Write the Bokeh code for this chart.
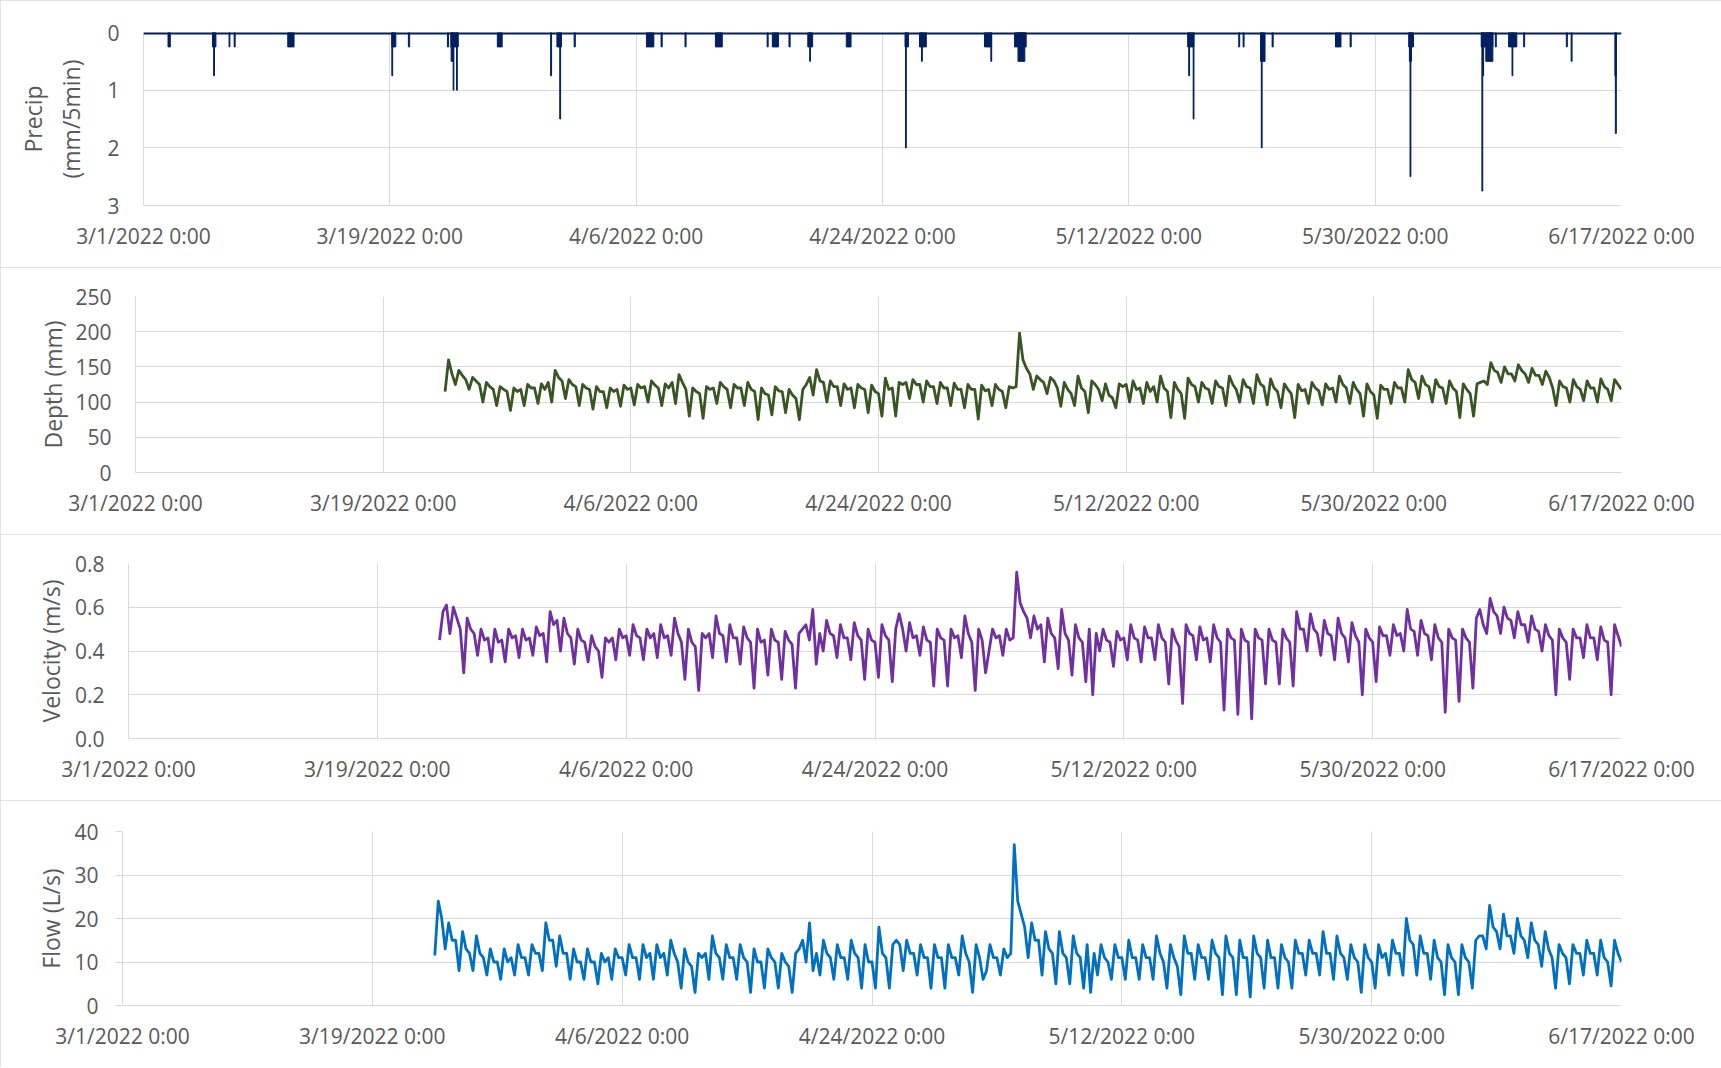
import pandas as pd
from bokeh.plotting import figure
from bokeh.models import Range1d, FixedTicker, Span, PrintfTickFormatter, ColumnDataSource
from bokeh.embed import file_html
from bokeh.resources import INLINE

# ---------------- data ----------------
tick_dates = ["2022-03-01 00:00", "2022-03-19 00:00", "2022-04-06 00:00", "2022-04-24 00:00",
              "2022-05-12 00:00", "2022-05-30 00:00", "2022-06-17 00:00"]
tick_labels = ["3/1/2022 0:00", "3/19/2022 0:00", "4/6/2022 0:00", "4/24/2022 0:00",
               "5/12/2022 0:00", "5/30/2022 0:00", "6/17/2022 0:00"]

# rainfall pulses (start, end, intensity mm/5min)
precip_start = ["2022-03-02 19:00", "2022-03-06 01:00", "2022-03-06 03:00", "2022-03-07 06:00", "2022-03-07 15:00",
                "2022-03-11 13:00", "2022-03-19 03:30", "2022-03-19 03:30", "2022-03-20 08:30", "2022-03-23 05:00",
                "2022-03-23 11:00", "2022-03-23 11:30", "2022-03-23 15:00", "2022-03-23 21:00", "2022-03-26 20:30",
                "2022-03-30 18:00", "2022-03-31 05:00", "2022-03-31 10:00", "2022-04-01 11:15", "2022-04-06 18:00",
                "2022-04-07 19:40", "2022-04-09 13:40", "2022-04-11 19:00", "2022-04-15 13:40", "2022-04-15 22:45",
                "2022-04-17 04:00", "2022-04-18 13:00", "2022-04-18 16:20", "2022-04-21 08:30", "2022-04-25 15:30",
                "2022-04-25 16:20", "2022-04-26 16:50", "2022-04-26 20:25", "2022-05-01 10:50", "2022-05-01 22:00",
                "2022-05-03 15:35", "2022-05-03 21:35", "2022-05-16 07:10", "2022-05-16 09:00", "2022-05-16 16:50",
                "2022-05-20 00:45", "2022-05-20 08:25", "2022-05-21 15:00", "2022-05-21 16:20", "2022-05-22 11:15",
                "2022-05-27 02:25", "2022-05-28 04:05", "2022-06-01 10:50", "2022-06-01 12:00", "2022-06-01 13:10",
                "2022-06-06 18:00", "2022-06-07 02:00", "2022-06-06 19:10", "2022-06-06 20:40", "2022-06-07 18:40",
                "2022-06-08 18:00", "2022-06-09 00:00", "2022-06-09 20:25", "2022-06-12 23:15", "2022-06-13 07:40",
                "2022-06-16 12:30", "2022-06-16 13:10"]
precip_end = ["2022-03-02 23:00", "2022-03-06 07:00", "2022-03-06 04:30", "2022-03-07 07:30", "2022-03-07 16:45",
              "2022-03-12 00:00", "2022-03-19 05:00", "2022-03-19 10:30", "2022-03-20 10:45", "2022-03-23 07:00",
              "2022-03-24 00:00", "2022-03-23 15:00", "2022-03-23 16:20", "2022-03-23 22:20", "2022-03-27 05:00",
              "2022-03-30 19:40", "2022-03-31 13:00", "2022-03-31 11:30", "2022-04-01 13:15", "2022-04-07 07:00",
              "2022-04-07 21:40", "2022-04-09 15:30", "2022-04-12 07:00", "2022-04-15 15:30", "2022-04-16 09:30",
              "2022-04-17 06:00", "2022-04-18 21:30", "2022-04-18 17:45", "2022-04-21 16:50", "2022-04-25 21:30",
              "2022-04-25 17:45", "2022-04-27 04:50", "2022-04-26 21:50", "2022-05-01 23:15", "2022-05-01 23:30",
              "2022-05-04 12:00", "2022-05-04 09:35", "2022-05-16 18:00", "2022-05-16 10:35", "2022-05-16 18:15",
              "2022-05-20 02:25", "2022-05-20 10:05", "2022-05-21 22:50", "2022-05-21 17:45", "2022-05-22 13:10",
              "2022-05-27 12:00", "2022-05-28 06:00", "2022-06-01 19:10", "2022-06-01 15:40", "2022-06-01 14:40",
              "2022-06-07 14:25", "2022-06-07 14:25", "2022-06-06 20:40", "2022-06-06 22:10", "2022-06-07 20:25",
              "2022-06-09 08:25", "2022-06-09 01:25", "2022-06-09 22:05", "2022-06-13 01:00", "2022-06-13 09:20",
              "2022-06-16 14:55", "2022-06-16 14:55"]
precip_mm = [0.25, 0.25, 0.75, 0.25, 0.25,
             0.25, 0.75, 0.25, 0.25, 0.25,
             0.25, 0.5, 1.0, 1.0, 0.25,
             0.75, 0.25, 1.5, 0.25, 0.25,
             0.25, 0.25, 0.25, 0.25, 0.25,
             0.25, 0.25, 0.5, 0.25, 0.25,
             2.0, 0.25, 0.5, 0.25, 0.5,
             0.25, 0.5, 0.25, 0.75, 1.5,
             0.25, 0.25, 0.5, 2.0, 0.25,
             0.25, 0.25, 0.25, 0.5, 2.5,
             0.25, 0.5, 2.75, 0.75, 0.25,
             0.25, 0.75, 0.25, 0.25, 0.5,
             0.75, 1.75]

# sensor record, 6-hourly readings starting 3/23/2022 12:00
series_start = "2022-03-23 12:00"

depth_mm = [
    115, 160,
    140, 125, 145, 138, 132, 118, 135, 130, 125, 100, 128, 122, 118, 95, 122, 118,
    115, 88, 120, 115, 118, 95, 125, 120, 120, 98, 126, 118, 128, 100, 145, 135,
    130, 105, 132, 125, 122, 95, 125, 120, 118, 90, 122, 115, 115, 92, 120, 115,
    118, 94, 124, 118, 120, 96, 125, 120, 122, 100, 130, 124, 120, 95, 126, 120,
    128, 98, 139, 128, 118, 80, 120, 115, 112, 77, 122, 118, 120, 98, 128, 122,
    118, 92, 125, 120, 120, 95, 128, 118, 115, 75, 120, 112, 110, 82, 122, 116,
    115, 85, 118, 110, 105, 75, 118, 125, 135, 110, 146, 130, 128, 100, 130, 122,
    122, 95, 126, 118, 120, 92, 125, 120, 118, 85, 124, 115, 112, 80, 134, 118,
    120, 80, 128, 125, 128, 105, 132, 125, 125, 100, 130, 122, 122, 98, 128, 120,
    120, 95, 127, 118, 118, 92, 125, 118, 118, 76, 124, 116, 118, 95, 125, 118,
    115, 92, 122, 120, 122, 198, 160, 148, 140, 118, 137, 132, 128, 112, 135, 130,
    120, 94, 128, 118, 112, 95, 137, 120, 115, 85, 130, 125, 118, 102, 126, 110,
    106, 92, 126, 122, 125, 100, 130, 118, 120, 98, 128, 115, 122, 100, 137, 120,
    115, 78, 128, 118, 112, 77, 134, 125, 122, 100, 128, 120, 118, 98, 130, 122,
    120, 95, 137, 125, 118, 100, 132, 122, 120, 98, 139, 126, 122, 96, 133, 120,
    115, 92, 126, 118, 112, 78, 125, 116, 118, 98, 128, 120, 116, 96, 126, 118,
    120, 100, 137, 125, 120, 98, 128, 118, 112, 80, 126, 115, 110, 77, 124, 118,
    118, 98, 128, 120, 120, 100, 146, 132, 128, 105, 137, 125, 122, 100, 132, 122,
    120, 98, 130, 120, 115, 78, 126, 118, 112, 80, 126, 128, 130, 125, 156, 145,
    142, 128, 150, 140, 140, 130, 153, 145, 140, 128, 148, 138, 138, 125, 144, 135,
    120, 95, 130, 122, 120, 100, 132, 122, 118, 102, 130, 120, 120, 100, 133, 122,
    118, 102, 132, 125,
    118]

velocity_ms = [
    0.45, 0.58,
    0.61, 0.48, 0.60, 0.55, 0.50, 0.30, 0.55, 0.50, 0.48, 0.38, 0.50, 0.45, 0.46, 0.35, 0.50, 0.44,
    0.45, 0.35, 0.50, 0.46, 0.47, 0.37, 0.50, 0.45, 0.46, 0.38, 0.51, 0.47, 0.48, 0.35, 0.58, 0.52,
    0.54, 0.40, 0.55, 0.48, 0.46, 0.34, 0.50, 0.45, 0.44, 0.35, 0.47, 0.42, 0.40, 0.28, 0.46, 0.44,
    0.46, 0.36, 0.50, 0.46, 0.47, 0.38, 0.52, 0.47, 0.46, 0.36, 0.50, 0.46, 0.48, 0.37, 0.52, 0.46,
    0.47, 0.38, 0.55, 0.48, 0.44, 0.27, 0.50, 0.44, 0.42, 0.22, 0.48, 0.46, 0.48, 0.37, 0.56, 0.48,
    0.47, 0.35, 0.52, 0.46, 0.46, 0.34, 0.51, 0.46, 0.44, 0.23, 0.50, 0.44, 0.45, 0.29, 0.50, 0.45,
    0.44, 0.27, 0.49, 0.45, 0.43, 0.23, 0.48, 0.50, 0.52, 0.45, 0.59, 0.34, 0.48, 0.40, 0.54, 0.48,
    0.47, 0.37, 0.52, 0.46, 0.46, 0.36, 0.53, 0.47, 0.45, 0.27, 0.50, 0.45, 0.44, 0.28, 0.52, 0.47,
    0.45, 0.26, 0.50, 0.57, 0.50, 0.40, 0.53, 0.46, 0.47, 0.38, 0.51, 0.45, 0.44, 0.24, 0.50, 0.46,
    0.45, 0.24, 0.50, 0.46, 0.47, 0.37, 0.56, 0.48, 0.44, 0.22, 0.50, 0.45, 0.30, 0.40, 0.50, 0.46,
    0.47, 0.38, 0.50, 0.45, 0.46, 0.76, 0.62, 0.58, 0.55, 0.46, 0.56, 0.50, 0.52, 0.35, 0.55, 0.48,
    0.46, 0.32, 0.59, 0.48, 0.45, 0.29, 0.52, 0.46, 0.44, 0.26, 0.50, 0.20, 0.48, 0.40, 0.50, 0.45,
    0.44, 0.33, 0.49, 0.45, 0.46, 0.36, 0.52, 0.46, 0.45, 0.35, 0.51, 0.46, 0.46, 0.36, 0.52, 0.46,
    0.44, 0.25, 0.50, 0.45, 0.42, 0.16, 0.52, 0.48, 0.47, 0.36, 0.51, 0.45, 0.46, 0.35, 0.52, 0.46,
    0.44, 0.13, 0.50, 0.46, 0.45, 0.11, 0.50, 0.45, 0.44, 0.09, 0.50, 0.46, 0.45, 0.25, 0.50, 0.45,
    0.44, 0.25, 0.50, 0.46, 0.44, 0.24, 0.58, 0.50, 0.50, 0.40, 0.57, 0.50, 0.48, 0.38, 0.54, 0.48,
    0.47, 0.36, 0.55, 0.48, 0.46, 0.35, 0.53, 0.47, 0.44, 0.20, 0.50, 0.46, 0.44, 0.26, 0.51, 0.47,
    0.47, 0.38, 0.52, 0.47, 0.48, 0.40, 0.59, 0.50, 0.49, 0.38, 0.54, 0.48, 0.47, 0.36, 0.52, 0.46,
    0.44, 0.12, 0.50, 0.46, 0.45, 0.17, 0.50, 0.46, 0.44, 0.23, 0.55, 0.59, 0.52, 0.48, 0.64, 0.58,
    0.56, 0.48, 0.60, 0.55, 0.54, 0.46, 0.58, 0.52, 0.52, 0.44, 0.56, 0.50, 0.49, 0.40, 0.52, 0.47,
    0.45, 0.20, 0.50, 0.46, 0.44, 0.27, 0.50, 0.46, 0.46, 0.37, 0.52, 0.46, 0.46, 0.36, 0.51, 0.45,
    0.44, 0.20, 0.52, 0.47,
    0.42]

flow_ls = [
    11.5, 24,
    20, 13, 19, 15, 15, 8, 17, 13, 12, 8, 16, 12, 11, 7, 13, 10,
    10, 6, 13, 10, 11, 7, 14, 11, 11, 7, 14, 12, 12, 8, 19, 15,
    15, 9, 16, 12, 12, 6, 13, 10, 10, 6, 13, 10, 10, 5, 12, 10,
    11, 6, 13, 11, 11, 7, 14, 11, 11, 6, 14, 11, 12, 6, 14, 11,
    12, 7, 15, 12, 10, 4, 13, 10, 9, 3, 12, 11, 12, 6, 16, 12,
    11, 6, 14, 11, 11, 6, 14, 11, 10, 3, 13, 10, 10, 4, 13, 11,
    10, 4, 12, 10, 9, 3, 12, 13, 15, 10, 19, 8, 12, 7, 15, 12,
    11, 6, 14, 11, 11, 6, 15, 12, 11, 4, 14, 10, 10, 4, 18, 12,
    11, 4, 14, 15, 14, 8, 15, 12, 12, 7, 14, 11, 11, 4, 14, 11,
    11, 4, 14, 11, 11, 7, 16, 12, 10, 3, 14, 11, 6, 8, 14, 11,
    11, 7, 13, 11, 12, 37, 24, 21, 18, 11, 19, 15, 15, 7, 17, 13,
    12, 5, 17, 12, 11, 5, 16, 12, 11, 4, 14, 3, 12, 7, 14, 11,
    10, 6, 14, 11, 11, 6, 15, 11, 11, 6, 14, 11, 11, 6, 16, 12,
    10, 4, 14, 11, 9, 2.5, 16, 12, 12, 6, 14, 11, 11, 6, 15, 12,
    11, 2.5, 16, 12, 11, 2.5, 15, 11, 11, 2, 16, 12, 11, 4, 15, 11,
    11, 4, 14, 11, 10, 4, 15, 12, 12, 7, 15, 12, 12, 7, 17, 12,
    12, 6, 16, 12, 11, 6, 14, 11, 10, 3, 14, 11, 10, 4, 14, 11,
    12, 7, 15, 12, 12, 7, 20, 15, 14, 7, 16, 12, 12, 6, 15, 11,
    10, 2.5, 14, 11, 10, 2.5, 14, 11, 10, 4, 15, 16, 16, 13, 23, 18,
    17, 13, 21, 16, 16, 12, 20, 16, 15, 11, 19, 15, 14, 9, 17, 13,
    11, 4, 14, 12, 11, 5, 14, 12, 12, 7, 15, 12, 12, 7, 15, 11,
    10, 4.5, 15, 12,
    10]

# ---------------- styling ----------------
FONT = "Open Sans"
TXT = "#595959"
GRID = "#d9d9d9"
W = 1721
RIGHT_FRAME = 1621

tick_ms = [int(pd.Timestamp(d).value // 10**6) for d in tick_dates]
x0 = pd.Timestamp(tick_dates[0])
x1 = pd.Timestamp(tick_dates[-1])


def series_times(values):
    return [pd.Timestamp(series_start) + pd.Timedelta(hours=6 * i) for i in range(len(values))]


def panel(height, top, bottom, left, y_range, y_ticks, label, label_standoff, tick_out=0):
    p = figure(width=W, height=height, x_axis_type="datetime",
               x_range=Range1d(x0, x1), y_range=y_range,
               output_backend="svg", toolbar_location=None,
               min_border_top=top, min_border_bottom=bottom,
               min_border_left=left, min_border_right=W - RIGHT_FRAME)
    p.outline_line_color = None
    p.background_fill_color = "white"
    p.border_fill_color = "white"
    p.styles = {"outline": "1px solid #d9d9d9", "outline-offset": "-1px"}

    p.xaxis.ticker = FixedTicker(ticks=tick_ms)
    p.xaxis.major_label_overrides = dict(zip(tick_ms, tick_labels))
    p.xgrid.ticker = FixedTicker(ticks=tick_ms)
    p.yaxis.ticker = FixedTicker(ticks=y_ticks)
    p.ygrid.ticker = FixedTicker(ticks=y_ticks)

    for g in (p.xgrid, p.ygrid):
        g.grid_line_color = GRID
        g.grid_line_width = 1

    for ax in (p.xaxis, p.yaxis):
        ax.axis_line_color = GRID
        ax.minor_tick_line_color = None
        ax.major_tick_in = 0
        ax.major_label_text_font = FONT
        ax.major_label_text_font_size = "21px"
        ax.major_label_text_color = TXT
        ax.axis_label_text_font = FONT
        ax.axis_label_text_font_size = "23px"
        ax.axis_label_text_font_style = "normal"
        ax.axis_label_text_color = TXT

    p.xaxis.major_tick_out = 0
    p.xaxis.major_label_standoff = 16
    p.yaxis.major_tick_out = tick_out
    p.yaxis.major_tick_line_color = GRID
    p.yaxis.major_label_standoff = 24 - tick_out
    p.yaxis.axis_label = label
    p.yaxis.axis_label_standoff = label_standoff
    return p


# Panel 1: precipitation (reversed axis)
p1 = panel(267, 32, 62, 143, Range1d(3, 0), [0, 1, 2, 3], "Precip\n(mm/5min)", 17)
psrc = ColumnDataSource(dict(left=pd.to_datetime(precip_start), right=pd.to_datetime(precip_end),
                             top=precip_mm, bottom=[0] * len(precip_mm)))
p1.quad(left="left", right="right", top="top", bottom="bottom", source=psrc,
        fill_color="#002060", line_color="#002060", line_width=1)
p1.add_layout(Span(location=0, dimension="width", line_color="#002060", line_width=4))

# Panel 2: depth
p2 = panel(267, 29, 62, 135, Range1d(0, 250), [0, 50, 100, 150, 200, 250], "Depth (mm)", 3)
p2.line(series_times(depth_mm), depth_mm, line_color="#375623", line_width=2.8, line_join="round")

# Panel 3: velocity
p3 = panel(266, 29, 62, 128, Range1d(0, 0.8), [0, 0.2, 0.4, 0.6, 0.8], "Velocity (m/s)", 5)
p3.yaxis.formatter = PrintfTickFormatter(format="%.1f")
p3.line(series_times(velocity_ms), velocity_ms, line_color="#7030A0", line_width=2.8, line_join="round")

# Panel 4: flow
p4 = panel(267, 31, 62, 122, Range1d(0, 40), [0, 10, 20, 30, 40], "Flow (L/s)", 4, tick_out=7)
p4.line(series_times(flow_ls), flow_ls, line_color="#0070C0", line_width=2.8, line_join="round")

open("out.html", "w").write(file_html([p1, p2, p3, p4], INLINE))
